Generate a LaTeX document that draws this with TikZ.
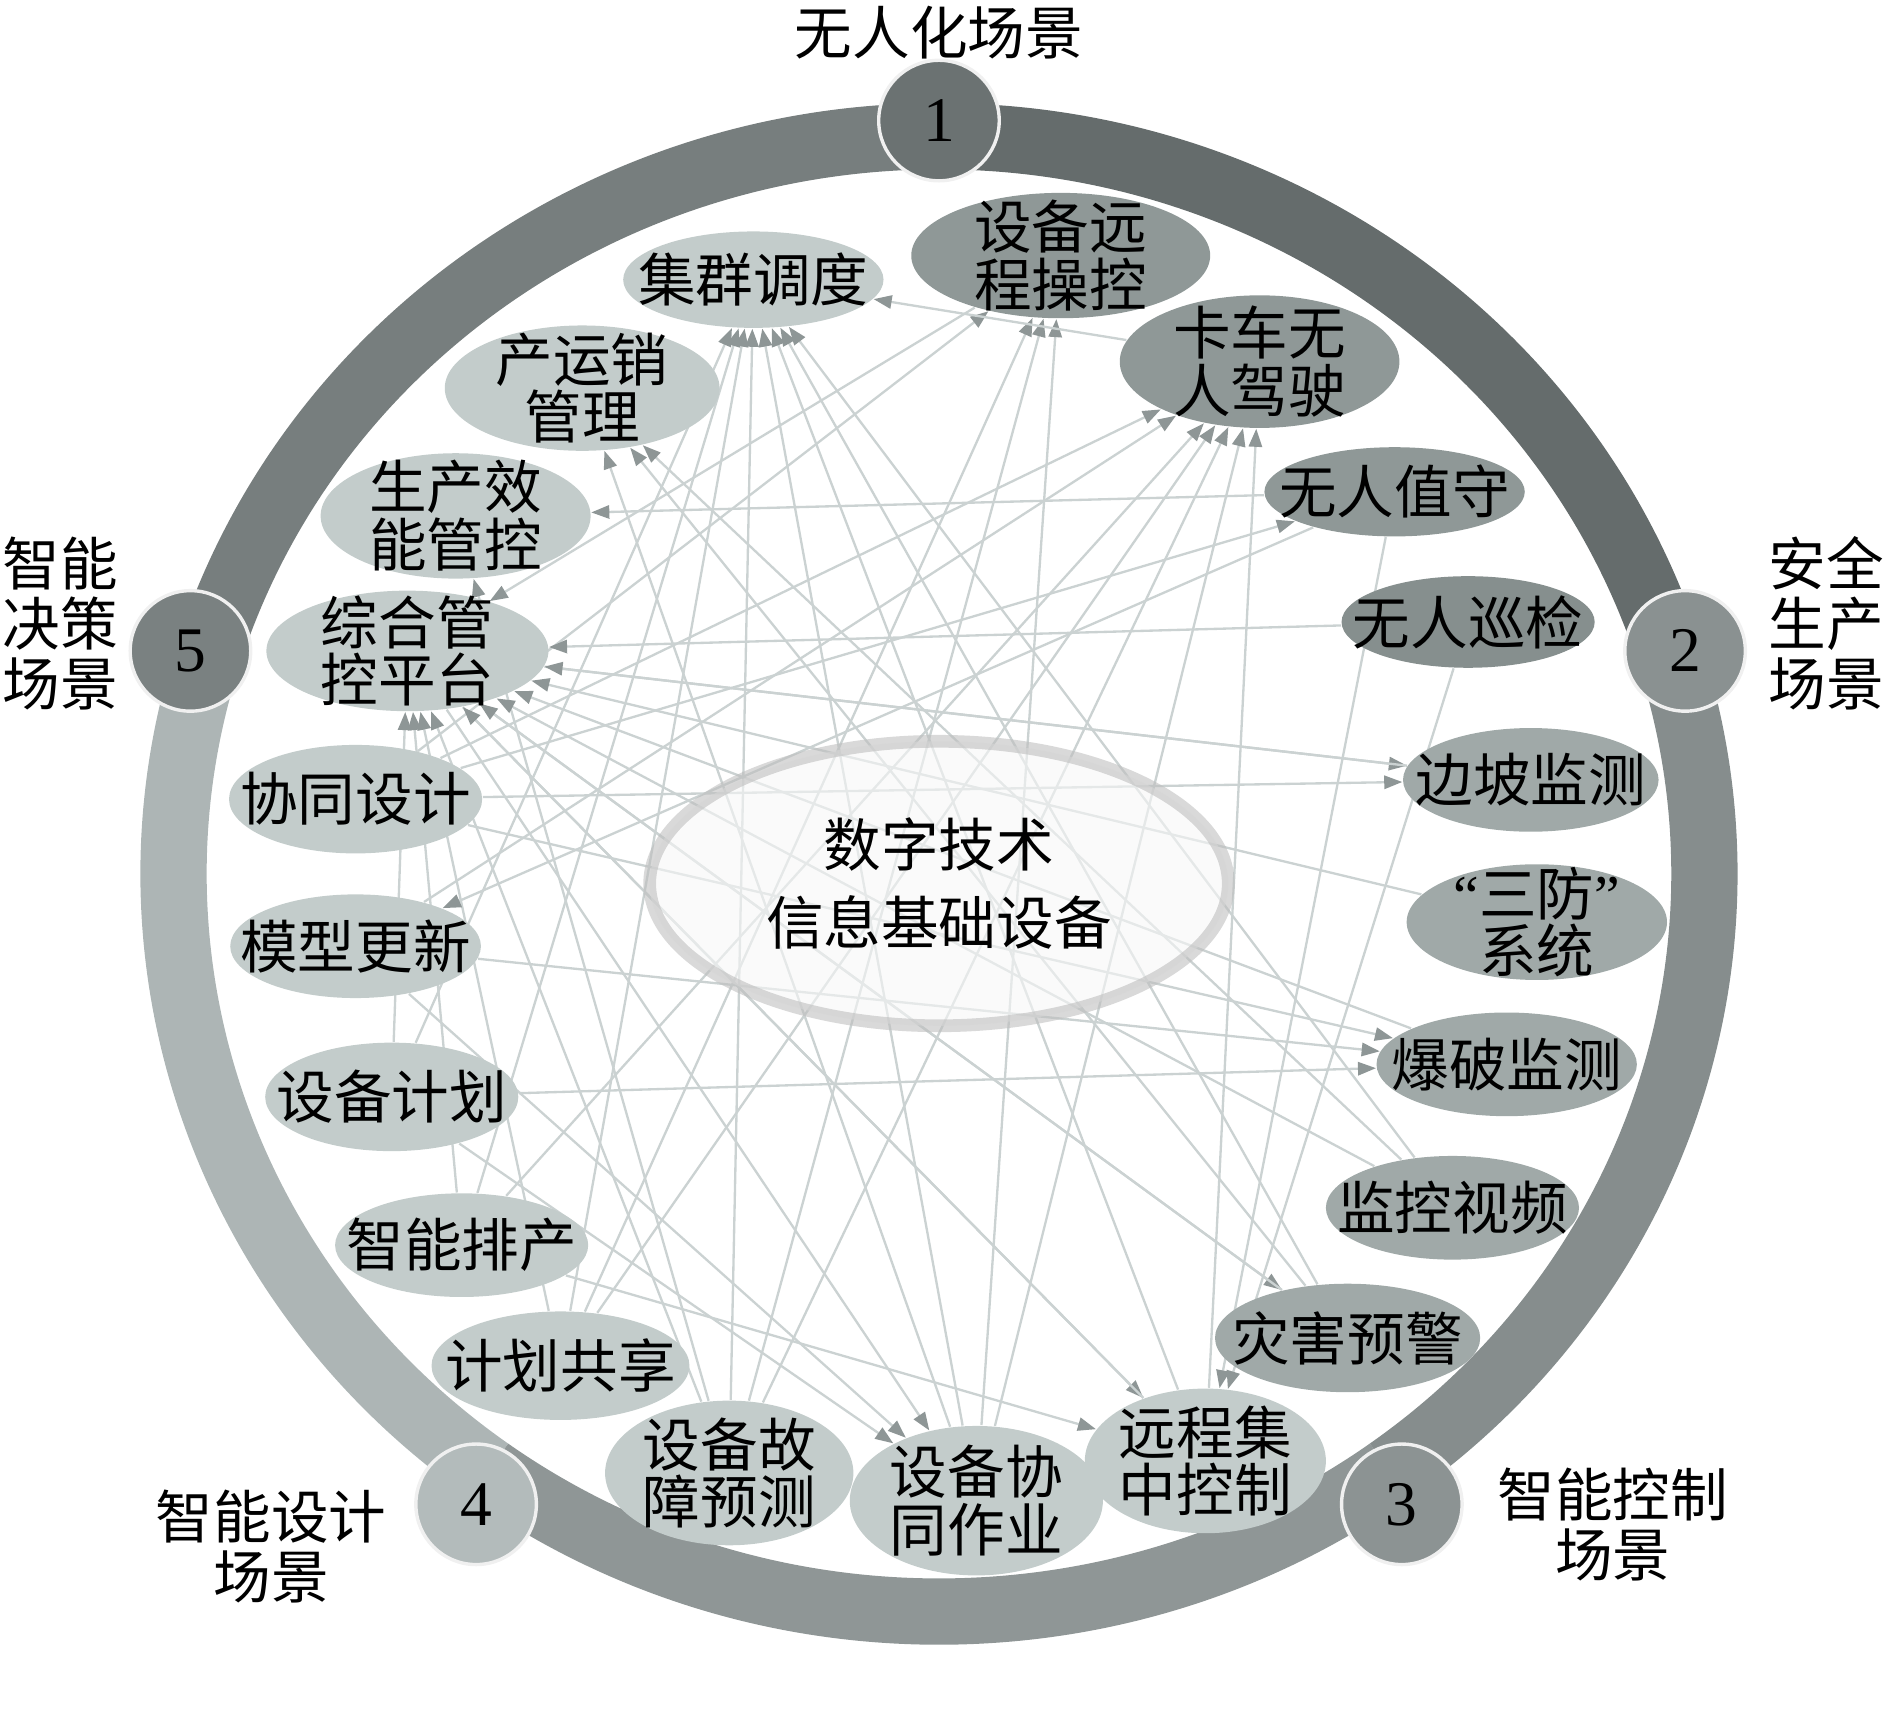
\documentclass[tikz,border=0pt]{standalone}
\usepackage{fontspec}
\setmainfont{Liberation Serif}
\newfontfamily\latn{Liberation Serif}
\newfontfamily\cjk{Noto Sans CJK SC}
\usepackage{tikz}
\usetikzlibrary{backgrounds}
\usetikzlibrary{shapes.geometric, arrows.meta}

\definecolor{ringA}{HTML}{656C6C}
\definecolor{ringB}{HTML}{868D8D}
\definecolor{ringC}{HTML}{8F9696}
\definecolor{ringD}{HTML}{ADB5B5}
\definecolor{ringE}{HTML}{777E7E}
\definecolor{numA}{HTML}{6B7272}
\definecolor{numB}{HTML}{8A9191}
\definecolor{numC}{HTML}{8C9393}
\definecolor{numD}{HTML}{B3BBBB}
\definecolor{numE}{HTML}{7A8181}
\definecolor{lite}{HTML}{C3CCCB}
\definecolor{midd}{HTML}{A0A9A8}
\definecolor{dark}{HTML}{8F9897}
\definecolor{darker}{HTML}{868F8E}
\definecolor{linkgray}{HTML}{CBD2D2}
\definecolor{tipgray}{HTML}{8E9696}

\begin{document}
\begin{tikzpicture}[x=0.1mm, y=-0.1mm,
    every node/.style={font=\cjk\fontsize{13.6}{13.6}\selectfont, align=center, inner sep=0pt},
    bub/.style={ellipse, draw=none},
    numc/.style={circle, minimum size=10mm, draw=white!88!gray, line width=0.8pt,
      font=\latn\fontsize{15}{15}\selectfont},
    band/.style={line width=5.5mm},
    link/.style={draw=linkgray, line width=0.55pt,
      -{Triangle[length=1.5mm, width=1.1mm, color=tipgray]}}]
  \useasboundingbox (0,0) rectangle (1568,1418);
  \coordinate (ctr) at (779,725);

  % Ring
  \begin{pgfonlayer}{background}
    \draw[band, ringA] ([shift={(-90:635 and 612)}]ctr) arc[start angle=-90, end angle=-18, x radius=635, y radius=612];
    \draw[band, ringB] ([shift={(-18:635 and 612)}]ctr) arc[start angle=-18, end angle=54, x radius=635, y radius=612];
    \draw[band, ringC] ([shift={(54:635 and 612)}]ctr) arc[start angle=54, end angle=126, x radius=635, y radius=612];
    \draw[band, ringD] ([shift={(126:635 and 612)}]ctr) arc[start angle=126, end angle=198, x radius=635, y radius=612];
    \draw[band, ringE] ([shift={(198:635 and 612)}]ctr) arc[start angle=198, end angle=270, x radius=635, y radius=612];
  \end{pgfonlayer}

  % Scene numbers
  \node[numc, fill=numA] (n1) at (779,100) {1};
  \node[numc, fill=numB] (n2) at (1398,540) {2};
  \node[numc, fill=numC] (n3) at (1163,1248) {3};
  \node[numc, fill=numD] (n4) at (395,1248) {4};
  \node[numc, fill=numE] (n5) at (158,540) {5};

  % Scene titles
  \node (t1) at (779,27) {无人化场景};
  \node[font=\cjk\fontsize{13.6}{14.2}\selectfont] (t2) at (1515,517) {安全\\生产\\场景};
  \node[font=\cjk\fontsize{13.6}{14.2}\selectfont] (t3) at (1338,1265) {智能控制\\场景};
  \node[font=\cjk\fontsize{13.6}{14.2}\selectfont] (t4) at (225,1283) {智能设计\\场景};
  \node[font=\cjk\fontsize{13.6}{14.2}\selectfont] (t5) at (50,517) {智能\\决策\\场景};

  % Application nodes
  \node[bub, fill=lite, minimum width=21.6mm, minimum height=8mm, label=center:集群调度] (jqdd) at (625,232) {};
  \node[bub, fill=dark, minimum width=24.8mm, minimum height=10.4mm, label={center:设备远\\程操控}] (ycck) at (880,212) {};
  \node[bub, fill=dark, minimum width=23.2mm, minimum height=11mm, label={center:卡车无\\人驾驶}] (kcjs) at (1045,300) {};
  \node[bub, fill=lite, minimum width=22.8mm, minimum height=10.4mm, label={center:产运销\\管理}] (cyxgl) at (483,322) {};
  \node[bub, fill=dark, minimum width=21.6mm, minimum height=7.4mm, label=center:无人值守] (wrzs) at (1157,408) {};
  \node[bub, fill=lite, minimum width=22.4mm, minimum height=10.4mm, label={center:生产效\\能管控}] (scxn) at (378,428) {};
  \node[bub, fill=darker, minimum width=21mm, minimum height=7.6mm, label=center:无人巡检] (wrxj) at (1218,516) {};
  \node[bub, fill=lite, minimum width=23.4mm, minimum height=10mm, label={center:综合管\\控平台}] (zhgk) at (338,540) {};
  \node[bub, fill=lite, minimum width=21mm, minimum height=9mm, label=center:协同设计] (xtsj) at (295,663) {};
  \node[bub, fill=midd, minimum width=21.2mm, minimum height=8.6mm, label=center:边坡监测] (bpjc) at (1270,647) {};
  \node[bub, fill=lite, minimum width=20.8mm, minimum height=8.6mm, label=center:模型更新] (mxgx) at (295,785) {};
  \node[bub, fill=midd, minimum width=21.6mm, minimum height=9.6mm, label={center:{\latn “}三防{\latn ”}\\系统}] (sfxt) at (1275,765) {};
  \node[bub, fill=midd, minimum width=21.6mm, minimum height=8.6mm, label=center:爆破监测] (bpjs) at (1250,883) {};
  \node[bub, fill=lite, minimum width=21mm, minimum height=9mm, label=center:设备计划] (sbjh) at (325,910) {};
  \node[bub, fill=midd, minimum width=21mm, minimum height=8.6mm, label=center:监控视频] (jksp) at (1205,1002) {};
  \node[bub, fill=lite, minimum width=21mm, minimum height=8.6mm, label=center:智能排产] (znpc) at (383,1033) {};
  \node[bub, fill=midd, minimum width=22mm, minimum height=9mm, label=center:灾害预警] (zhyj) at (1118,1110) {};
  \node[bub, fill=lite, minimum width=21.4mm, minimum height=9mm, label=center:计划共享] (jhgx) at (465,1133) {};
  \node[bub, fill=lite, minimum width=20.6mm, minimum height=12mm, label={center:设备故\\障预测}] (gzyc) at (605,1222) {};
  \node[bub, fill=lite, minimum width=21mm, minimum height=12.4mm, label={center:设备协\\同作业}] (xtzy) at (810,1245) {};
  \node[bub, fill=lite, minimum width=20mm, minimum height=12mm, label={center:远程集\\中控制}] (jzkz) at (1000,1212) {};

  % Core
  \node[bub, minimum width=48mm, minimum height=23.6mm, fill=gray!6, fill opacity=0.6,
    draw=gray!50, draw opacity=0.6, line width=3pt] (core) at (779,733) {};
  \node[font=\cjk\fontsize{13.6}{18.4}\selectfont] (coret) at (779,733) {数字技术\\信息基础设备};

  % Links
  \begin{pgfonlayer}{background}
    \foreach \src/\dst in {gzyc/jqdd, gzyc/zhgk, gzyc/kcjs, gzyc/ycck, gzyc/scxn,
        jhgx/jqdd, jhgx/kcjs, jhgx/zhgk, jhgx/ycck, znpc/kcjs, znpc/jqdd, znpc/jzkz,
        znpc/zhgk, sbjh/zhgk, sbjh/bpjs, sbjh/xtzy, sbjh/jqdd, mxgx/bpjs, mxgx/xtzy,
        mxgx/kcjs, xtsj/wrzs, xtsj/bpjc, xtsj/kcjs, xtsj/bpjs, xtsj/ycck,
        zhgk/bpjc, zhgk/xtzy, zhgk/jzkz, zhgk/zhyj, wrzs/scxn, wrzs/mxgx,
        wrzs/jzkz, wrxj/jzkz, wrxj/zhgk, sfxt/zhgk, bpjc/zhgk, bpjs/zhgk,
        jksp/jqdd, jksp/zhgk, jksp/cyxgl, zhyj/jqdd, zhyj/cyxgl, zhyj/zhgk,
        xtzy/jqdd, xtzy/ycck, xtzy/cyxgl, xtzy/kcjs, kcjs/jqdd, ycck/zhgk,
        jzkz/kcjs, jzkz/jqdd, jzkz/zhgk}
      \draw[link] (\src) -- (\dst);
  \end{pgfonlayer}
\end{tikzpicture}
\end{document}
